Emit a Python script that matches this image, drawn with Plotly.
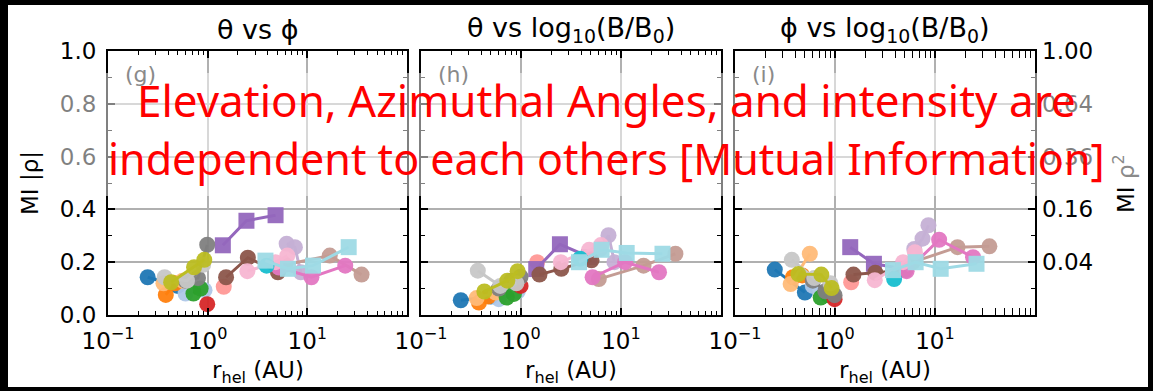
import plotly.graph_objects as go

# ---------------- data ----------------
colors = ["#1f77b4", "#aec7e8", "#ff7f0e", "#ffbb78", "#2ca02c", "#d62728", "#ff9896",
          "#9467bd", "#c5b0d5", "#8c564b", "#c49c94", "#e377c2", "#f7b6d2",
          "#7f7f7f", "#c7c7c7", "#bcbd22", "#17becf", "#9edae5"]
symbols = ["circle"] * 7 + ["square"] + ["circle"] * 9 + ["square"]

r_hel = [
    [0.25, 0.50],            # blue
    [0.60, 0.93],            # light blue
    [0.38, 0.47],            # orange
    [0.36, 0.56],            # light orange
    [0.72, 0.85],            # green
    [0.99],                  # red
    [1.45],                  # light red
    [1.42, 2.45, 4.8],       # purple (squares)
    [6.2, 7.5, 8.6],         # light purple
    [1.53, 2.53, 5.07],      # brown
    [6.0, 16.8, 35.0],       # light brown
    [5.2, 11.0, 24.0],       # pink
    [2.5, 4.8, 6.3],         # light pink
    [0.60, 0.80, 0.99],      # gray
    [0.37, 0.62, 0.90],      # light gray
    [0.43, 0.73, 0.925],     # olive
    [3.9],                   # cyan
    [3.8, 6.4, 11.4, 26.0],  # light cyan (squares)
]

mi_theta_phi = [
    [0.143, 0.110], [0.081, 0.094], [0.076, 0.120], [0.120, 0.130], [0.081, 0.100],
    [0.041], [0.107], [0.264, 0.357, 0.378], [0.270, 0.257, 0.162],
    [0.143, 0.217, 0.162], [0.190, 0.225, 0.153], [0.180, 0.143, 0.187],
    [0.166, 0.200, 0.225], [0.130, 0.140, 0.266], [0.143, 0.130, 0.190],
    [0.124, 0.181, 0.209], [0.187], [0.206, 0.175, 0.187, 0.257],
]

mi_theta_B = [
    [0.056, 0.070], [0.060, 0.090], [0.047, 0.070], [0.064, 0.085], [0.066, 0.080],
    [0.110], [0.200], [0.174, 0.268, 0.220], [0.250, 0.302, 0.200],
    [0.153, 0.175, 0.207], [0.136, 0.187, 0.232], [0.143, 0.200, 0.162],
    [0.200, 0.247, 0.265], [0.100, 0.130, 0.145], [0.168, 0.110, 0.120],
    [0.089, 0.130, 0.166], [0.213], [0.200, 0.247, 0.235, 0.232],
]

mi_phi_B = [
    [0.172, 0.085], [0.110, 0.090], [0.143, 0.150], [0.117, 0.232], [0.066, 0.075],
    [0.060], [0.124], [0.257, 0.194, 0.175], [0.250, 0.289, 0.340],
    [0.153, 0.160, 0.170], [0.200, 0.257, 0.260], [0.166, 0.285, 0.219],
    [0.132, 0.200, 0.238], [0.130, 0.090, 0.075], [0.209, 0.140, 0.120],
    [0.155, 0.153, 0.102], [0.136], [0.170, 0.200, 0.175, 0.194],
]

panel_titles = ["θ vs ϕ",
                "θ vs log<sub>10</sub>(B/B<sub>0</sub>)",
                "ϕ vs log<sub>10</sub>(B/B<sub>0</sub>)"]
panel_tags = ["(g)", "(h)", "(i)"]
y_ticks = [0.0, 0.2, 0.4, 0.6, 0.8, 1.0]
y_ticktext = ["0.0", "0.2", "0.4", "0.6", "0.8", "1.0"]
rho2_tickvals = [0.2, 0.4, 0.6, 0.8, 1.0]
rho2_ticktext = ["0.04", "0.16", "0.36", "0.64", "1.00"]
x_tickvals = [0.1, 1, 10]
x_ticktext = ["10<sup>−1</sup>", "10<sup>0</sup>", "10<sup>1</sup>"]
overlay_lines = ["Elevation, Azimuthal Angles, and intensity are",
                 "independent to each others [Mutual Information]"]

# ---------------- layout geometry ----------------
W, H = 1153, 391
L, R, T, B = 108, 118, 51, 76
PW = W - L - R
PH = H - T - B


def px(x):
    return (x - L) / PW


def py(y):
    return (H - B - y) / PH


panel_px = [(108, 407), (421, 721), (735, 1035)]
domains = [[px(a), px(b)] for a, b in panel_px]

FONT = "DejaVu Sans"
minor_x = [v * 10 ** e for e in (-1, 0, 1) for v in range(2, 10)]

fig = go.Figure()

datasets = [mi_theta_phi, mi_theta_B, mi_phi_B]
for p, data in enumerate(datasets):
    xa = "x" if p == 0 else f"x{p + 1}"
    ya = "y" if p == 0 else f"y{p + 1}"
    for i in range(len(colors)):
        fig.add_trace(go.Scatter(
            x=r_hel[i], y=data[i], mode="lines+markers",
            line=dict(color=colors[i], width=3),
            marker=dict(symbol=symbols[i], size=16, color=colors[i], opacity=0.95,
                        line=dict(width=0)),
            xaxis=xa, yaxis=ya, showlegend=False, hoverinfo="skip"))

# invisible trace for the right (rho^2) axis
fig.add_trace(go.Scatter(x=[1], y=[0.5], mode="markers", marker=dict(opacity=0),
                         xaxis="x3", yaxis="y4", showlegend=False, hoverinfo="skip"))

axis_common = dict(showline=True, linecolor="black", linewidth=2, mirror="allticks",
                   ticks="inside", tickcolor="black", tickwidth=1.5, ticklen=7,
                   showgrid=True, gridcolor="#b0b0b0", gridwidth=1.5, zeroline=False,
                   tickfont=dict(family=FONT, size=23, color="black"))

layout = dict(width=W, height=H, margin=dict(l=L, r=R, t=T, b=B),
              paper_bgcolor="white", plot_bgcolor="white", showlegend=False)

for p in range(3):
    xk = "xaxis" if p == 0 else f"xaxis{p + 1}"
    yk = "yaxis" if p == 0 else f"yaxis{p + 1}"
    ya = "y" if p == 0 else f"y{p + 1}"
    xa = "x" if p == 0 else f"x{p + 1}"
    layout[xk] = dict(axis_common, type="log", range=[-1, 2], domain=domains[p], anchor=ya,
                      tickmode="array", tickvals=x_tickvals, ticktext=x_ticktext,
                      ticklabelstandoff=4,
                      minor=dict(tickmode="array", tickvals=minor_x, ticks="inside",
                                 ticklen=4, tickwidth=1.2, tickcolor="black", showgrid=False))
    layout[yk] = dict(axis_common, range=[0, 1], domain=[0, 1], anchor=xa,
                      tickmode="array", tickvals=y_ticks, ticktext=y_ticktext,
                      showticklabels=(p == 0), ticklabelstandoff=5,
                      minor=dict(tickmode="array", tickvals=[0.1, 0.3, 0.5, 0.7, 0.9],
                                 ticks="inside", ticklen=4, tickwidth=1.2,
                                 tickcolor="black", showgrid=False))

layout["yaxis4"] = dict(range=[0, 1], overlaying="y3", side="right", anchor="x3",
                        showgrid=False, zeroline=False, showline=False, ticks="",
                        tickmode="array", tickvals=rho2_tickvals, ticktext=rho2_ticktext,
                        ticklabelstandoff=6,
                        tickfont=dict(family=FONT, size=23, color="black"))

fig.update_layout(**layout)

annotations = []
for p, (a, b) in enumerate(panel_px):
    annotations.append(dict(text=panel_titles[p], xref="paper", yref="paper",
                            x=px((a + b) / 2), y=py(29), xanchor="center", yanchor="middle",
                            showarrow=False, font=dict(family=FONT, size=27, color="black")))
    annotations.append(dict(text=panel_tags[p], xref="paper", yref="paper",
                            x=px(a + 15), y=py(74), xanchor="left", yanchor="middle",
                            showarrow=False, font=dict(family=FONT, size=22, color="#8a8a8a")))
    annotations.append(dict(text="r<sub>hel</sub> (AU)", xref="paper", yref="paper",
                            x=px((a + b) / 2), y=py(372), xanchor="center", yanchor="middle",
                            showarrow=False, font=dict(family=FONT, size=23, color="black")))

annotations.append(dict(text="MI |ρ|", xref="paper", yref="paper", x=px(30), y=py(183),
                        xanchor="center", yanchor="middle", textangle=-90, showarrow=False,
                        font=dict(family=FONT, size=23, color="black")))
annotations.append(dict(text="MI <span style='color:#8a8a8a'>ρ<sup>2</sup></span>",
                        xref="paper", yref="paper", x=px(1124), y=py(184),
                        xanchor="center", yanchor="middle", textangle=-90, showarrow=False,
                        font=dict(family=FONT, size=23, color="black")))

for line, yc, fs in zip(overlay_lines, [100, 158], [44, 43]):
    annotations.append(dict(text=line, xref="paper", yref="paper", x=px(606), y=py(yc),
                            xanchor="center", yanchor="middle", showarrow=False,
                            font=dict(family="Noto Sans", size=fs, color="#ff0000")))

fig.update_layout(annotations=annotations)

shapes = [
    # semi-transparent white band behind the red statement
    dict(type="rect", xref="paper", yref="paper", x0=px(45), x1=px(1143),
         y0=py(196), y1=py(73), fillcolor="rgba(255,255,255,0.5)", line=dict(width=0),
         layer="above"),
    # black frame around the picture
    dict(type="rect", xref="paper", yref="paper", x0=px(0), x1=px(8), y0=py(H), y1=py(0),
         fillcolor="black", line=dict(width=0), layer="above"),
    dict(type="rect", xref="paper", yref="paper", x0=px(1148), x1=px(W), y0=py(H), y1=py(0),
         fillcolor="black", line=dict(width=0), layer="above"),
    dict(type="rect", xref="paper", yref="paper", x0=px(0), x1=px(W), y0=py(5), y1=py(0),
         fillcolor="black", line=dict(width=0), layer="above"),
    dict(type="rect", xref="paper", yref="paper", x0=px(0), x1=px(W), y0=py(H), y1=py(387),
         fillcolor="black", line=dict(width=0), layer="above"),
]
fig.update_layout(shapes=shapes)

# remove the page's default body margin so the figure sits at the window's top-left corner
fig.write_html("out.html",
               config={"displayModeBar": False},
               post_script="document.body.style.margin='0';"
                           "document.documentElement.style.overflow='hidden';"
                           "document.body.style.overflow='hidden';")
